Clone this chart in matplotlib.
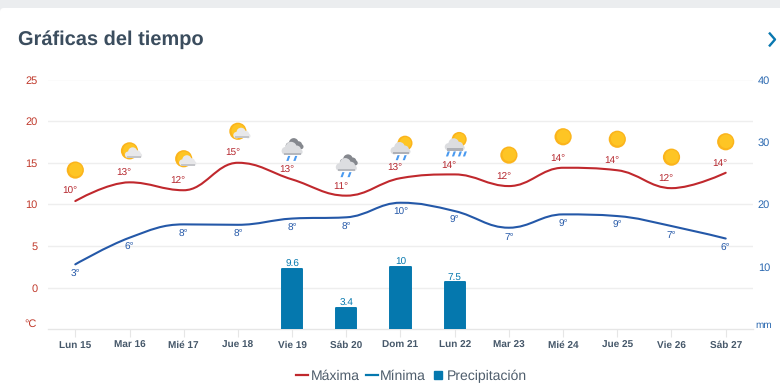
import matplotlib
matplotlib.use('Agg')
import matplotlib.pyplot as plt
from matplotlib.lines import Line2D
from matplotlib.patches import Circle, FancyBboxPatch, PathPatch, Polygon, Rectangle
from matplotlib.path import Path
from matplotlib.transforms import Affine2D, IdentityTransform

# datos
dias = ['Lun 15', 'Mar 16', 'Mié 17', 'Jue 18', 'Vie 19', 'Sáb 20', 'Dom 21',
        'Lun 22', 'Mar 23', 'Mié 24', 'Jue 25', 'Vie 26', 'Sáb 27']
maxima = [10.4, 12.65, 11.7, 15.0, 13.0, 11.05, 13.15, 13.6, 12.2, 14.4, 14.1, 11.95, 13.8]
minima = [2.8, 6.0, 7.6, 7.55, 8.3, 8.45, 10.2, 9.2, 7.2, 8.8, 8.6, 7.4, 5.9]
maxima_txt = [10, 13, 12, 15, 13, 11, 13, 14, 12, 14, 14, 12, 14]
minima_txt = [3, 6, 8, 8, 8, 8, 10, 9, 7, 9, 9, 7, 6]
precip_dias = [4, 5, 6, 7]
precip = [9.6, 3.4, 10, 7.5]
precip_txt = ['9.6', '3.4', '10', '7.5']
iconos = ['sol', 'nube', 'nube', 'nube', 'lluvia', 'lluvia', 'sol_lluvia',
          'sol_lluvia4', 'sol', 'sol', 'sol', 'sol', 'sol']

plt.rcParams['font.family'] = ['Liberation Sans', 'DejaVu Sans']
plt.rcParams['text.hinting'] = 'no_hinting'
plt.rcParams['text.hinting_factor'] = 1

ROJO = '#c0282d'
AZUL = '#2458a8'
BARRA = '#0578ae'
GRIS = '#eeeeee'
W, H = 780, 392


def spline_path(xs, ys):
    # curva tipo highcharts (suavizado 1.5)
    n = len(xs)
    izq = [(xs[0], ys[0])] * n
    der = [(xs[-1], ys[-1])] * n
    der[0] = (xs[0], ys[0])
    izq[-1] = (xs[-1], ys[-1])
    for i in range(1, n - 1):
        lx = (1.5 * xs[i] + xs[i - 1]) / 2.5
        ly = (1.5 * ys[i] + ys[i - 1]) / 2.5
        rx = (1.5 * xs[i] + xs[i + 1]) / 2.5
        ry = (1.5 * ys[i] + ys[i + 1]) / 2.5
        corr = (ry - ly) * (rx - xs[i]) / (rx - lx) + ys[i] - ry
        ly += corr
        ry += corr
        if ly > ys[i - 1] and ly > ys[i]:
            ly = max(ys[i - 1], ys[i])
            ry = 2 * ys[i] - ly
        elif ly < ys[i - 1] and ly < ys[i]:
            ly = min(ys[i - 1], ys[i])
            ry = 2 * ys[i] - ly
        if ry > ys[i + 1] and ry > ys[i]:
            ry = max(ys[i + 1], ys[i])
            ly = 2 * ys[i] - ry
        elif ry < ys[i + 1] and ry < ys[i]:
            ry = min(ys[i + 1], ys[i])
            ly = 2 * ys[i] - ry
        izq[i] = (lx, ly)
        der[i] = (rx, ry)
    verts = [(xs[0], ys[0])]
    codes = [Path.MOVETO]
    for i in range(1, n):
        verts += [der[i - 1], izq[i], (xs[i], ys[i])]
        codes += [Path.CURVE4] * 3
    return Path(verts, codes)


def px(x, y):
    # de pixeles de la imagen a pixeles de la figura
    return x, H - y


def dibuja_sol(fig, t, cx, cy, r):
    fig.add_artist(Circle((cx, cy), r, transform=t, color='#fbb41c', lw=0))
    fig.add_artist(Circle((cx + 0.4, cy + 0.4), r - 1.8, transform=t, color='#fec524', lw=0))


def dibuja_nube(fig, t, cx, cy, esc, color, color2=None):
    for dx, dy, r in [(-6.5, -0.5, 4), (-1, 3, 5.6), (4.5, 0.5, 4.4), (7.5, -1.5, 3)]:
        fig.add_artist(Circle((cx + dx * esc, cy + dy * esc), r * esc, transform=t, color=color, lw=0))
    fig.add_artist(Rectangle((cx - 6.5 * esc, cy - 4.5 * esc), 14 * esc, 4.5 * esc, transform=t,
                             color=color, lw=0))
    if color2:
        fig.add_artist(Rectangle((cx - 8 * esc, cy - 4.5 * esc), 17 * esc, 2.4 * esc, transform=t,
                                 color=color2, lw=0))


def dibuja_gotas(fig, t, xs, y):
    for x in xs:
        fig.add_artist(Polygon([(x, y), (x + 2.2, y), (x + 0.4, y - 5), (x - 1.8, y - 5)], transform=t,
                               color='#4a9af0', lw=0))


def dibuja_icono(fig, tipo, x, y):
    # x, y es el centro del icono en pixeles de la figura
    t = Affine2D().translate(x, y)
    if tipo == 'sol':
        dibuja_sol(fig, t, 0, 0, 8.6)
    elif tipo == 'nube':
        dibuja_sol(fig, t, 0, 0.5, 8.6)
        dibuja_nube(fig, t, 4, -3, 0.82, '#e8e8ea', '#c4c5c9')
    elif tipo == 'lluvia':
        dibuja_gotas(fig, t, [-4, 3], -7.5)
        dibuja_nube(fig, t, 2.5, 3, 0.85, '#85888e')
        dibuja_nube(fig, t, 0, -2, 1.0, '#dcdde0', '#b5b7bc')
    else:
        dibuja_sol(fig, t, 4.5, 4, 7.5)
        if tipo == 'sol_lluvia':
            dibuja_gotas(fig, t, [-3, 4], -8)
        else:
            dibuja_gotas(fig, t, [-7, -1, 5, 10], -8)
        dibuja_nube(fig, t, 0, -3, 0.95, '#dcdde0', '#aeb0b6')


def plot_grafica():
    fig = plt.figure(figsize=(W / 100, H / 100), dpi=100, facecolor='#ebedef')

    # tarjeta blanca
    fig.add_artist(FancyBboxPatch((0, -20), W + 20, H + 20 - 8, boxstyle='round,pad=0,rounding_size=4',
                                  transform=IdentityTransform(), fc='white', ec='none', zorder=-1))

    izq, der, arriba, abajo = 48.2, 752.8, 79.5, 329.3
    ax = fig.add_axes([izq / W, 1 - abajo / H, (der - izq) / W, (abajo - arriba) / H])
    ax.set_facecolor('none')
    x = list(range(len(dias)))
    ax.set_xlim(-0.5, len(dias) - 0.5)
    ax.set_ylim(-5, 25)
    ax.set_yticks([0, 5, 10, 15, 20, 25])
    ax.set_xticks(x)
    ax.set_xticklabels(dias, fontsize=7.4, fontweight='bold', color='#46586a')
    ax.tick_params(axis='x', length=6, width=0.8, color='#e6e6e6', pad=2.5)
    ax.tick_params(axis='y', length=0, pad=7.8, labelsize=7.8, labelcolor='#c0392b')
    ax.grid(True, axis='y', color=GRIS, linewidth=1.0)
    ax.set_axisbelow(True)
    for s in ['top', 'left', 'right']:
        ax.spines[s].set_visible(False)
    ax.spines['bottom'].set_color('#e6e6e6')
    ax.spines['bottom'].set_linewidth(1.0)

    ax2 = ax.twinx()
    ax2.set_ylim(0, 40)
    ax2.set_yticks([10, 20, 30, 40])
    ax2.tick_params(axis='y', length=0, pad=3.5, labelsize=7.8, labelcolor='#2a68b0')
    for s in ax2.spines.values():
        s.set_visible(False)
    ax2.bar(precip_dias, precip, width=0.37, color=BARRA, edgecolor=BARRA, linewidth=1.4, joinstyle='round')

    for d, v, t in zip(precip_dias, precip, precip_txt):
        ax2.annotate(t, (d, v), xytext=(0, 3.4), textcoords='offset points', ha='center', va='center',
                     fontsize=7, color=BARRA)

    ax.add_patch(PathPatch(spline_path(x, maxima), fc='none', ec=ROJO, lw=1.5, capstyle='round'))
    ax.add_patch(PathPatch(spline_path(x, minima), fc='none', ec=AZUL, lw=1.5, capstyle='round'))

    for i in x:
        ax.annotate(f'{maxima_txt[i]}°', (i, maxima[i]), xytext=(-4, 6.8), textcoords='offset points',
                    ha='center', va='center', fontsize=7, color='#b5262d')
        ax.annotate(f'{minima_txt[i]}°', (i, minima[i]), xytext=(0, -6.9), textcoords='offset points',
                    ha='center', va='center', fontsize=7, color=AZUL)
        xp, yp = ax.transData.transform((i, maxima[i]))
        dibuja_icono(fig, iconos[i], xp, yp + 31)

    tr = IdentityTransform()
    fig.text(*px(18, 40), 'Gráficas del tiempo', transform=tr, fontsize=14.4, fontweight='bold',
             color='#3b4d5e', va='center', ha='left')
    fig.text(*px(36.5, 324), '°C', transform=tr, fontsize=7.8, color='#c0392b', va='center', ha='right')
    fig.text(*px(755, 325), 'mm', transform=tr, fontsize=7.3, color='#2a68b0', va='center', ha='left')
    fig.add_artist(Line2D([769.8, 775, 769.8], [H - 33.5, H - 39.5, H - 45.5], transform=tr,
                          color='#0a78b0', lw=1.7))

    handles = [Line2D([], [], color=ROJO, lw=1.6),
               Line2D([], [], color=BARRA, lw=1.6),
               Line2D([], [], color=BARRA, marker='s', markersize=6.4, linestyle='none')]
    fig.legend(handles, ['Máxima', 'Mínima', 'Precipitación'], ncols=3, frameon=False, fontsize=10,
               loc='center', bbox_to_anchor=(411.5 / W, 1 - 376 / H), labelcolor='#4e5d6c',
               handlelength=0.85, handletextpad=0.2, columnspacing=0.45, borderpad=0)

    fig.savefig('out.png', dpi=100, facecolor=fig.get_facecolor())


if __name__ == "__main__":
    plot_grafica()
